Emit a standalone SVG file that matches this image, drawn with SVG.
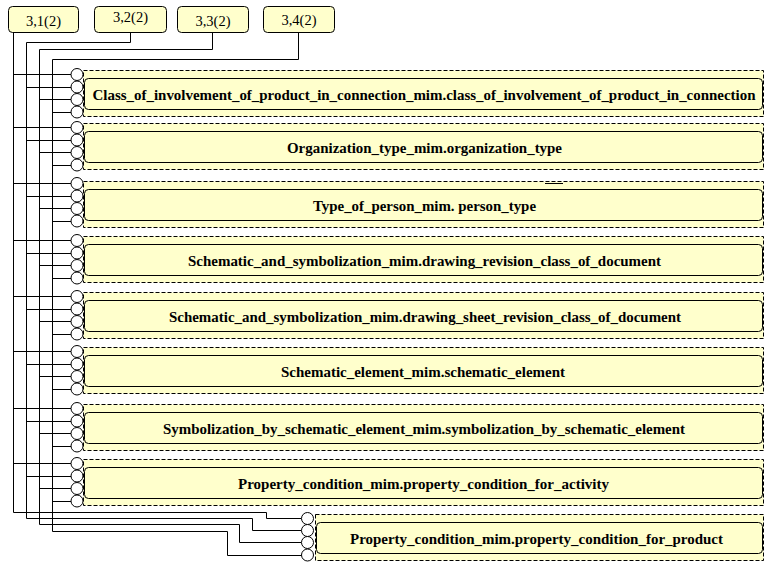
<svg xmlns="http://www.w3.org/2000/svg" width="768" height="576" viewBox="0 0 768 576">
<style>
.bg{fill:#ffffff}
.tb{fill:#ffffcc;stroke:#000;stroke-width:1}
.tt{font-family:"Liberation Serif","Times New Roman",serif;font-size:15px;fill:#000;text-anchor:middle}
.outer{fill:#ffffcc;stroke:#000;stroke-width:1;stroke-dasharray:4 2}
.inner{fill:#ffffcc;stroke:#000;stroke-width:1}
.lbl{font-family:"Liberation Serif","Times New Roman",serif;font-size:14px;font-weight:bold;fill:#000;text-anchor:middle}
.c{fill:#fff;stroke:#000;stroke-width:1}
.w{fill:none;stroke:#000;stroke-width:1}
</style>
<rect class="bg" x="0" y="0" width="768" height="576"/>

<g id="top-3-1"><rect class="tb" x="8.5" y="6.5" width="70" height="26" rx="4"/><text class="tt" x="43.5" y="26" textLength="35" lengthAdjust="spacingAndGlyphs">3,1(2)</text></g>
<g id="top-3-2"><rect class="tb" x="94.5" y="6.5" width="72" height="26" rx="4"/><text class="tt" x="130.5" y="22" textLength="35" lengthAdjust="spacingAndGlyphs">3,2(2)</text></g>
<g id="top-3-3"><rect class="tb" x="177.5" y="6.5" width="71" height="26" rx="4"/><text class="tt" x="213" y="26" textLength="35" lengthAdjust="spacingAndGlyphs">3,3(2)</text></g>
<g id="top-3-4"><rect class="tb" x="263.5" y="6.5" width="71" height="26" rx="4"/><text class="tt" x="299" y="25" textLength="35" lengthAdjust="spacingAndGlyphs">3,4(2)</text></g>

<g id="node1"><rect class="outer" x="83.5" y="70.5" width="680" height="46"/><rect class="inner" x="84.5" y="78.5" width="678" height="31" rx="4"/><text class="lbl" x="424" y="100" textLength="663" lengthAdjust="spacingAndGlyphs">Class_of_involvement_of_product_in_connection_mim.class_of_involvement_of_product_in_connection</text></g>
<g id="node2"><rect class="outer" x="83.5" y="123.5" width="680" height="46"/><rect class="inner" x="84.5" y="131.5" width="678" height="31" rx="4"/><text class="lbl" x="424.5" y="153" textLength="275" lengthAdjust="spacingAndGlyphs">Organization_type_mim.organization_type</text></g>
<g id="node3"><rect class="outer" x="83.5" y="181.5" width="680" height="46"/><rect class="inner" x="84.5" y="189.5" width="678" height="31" rx="4"/><text class="lbl" x="424.5" y="211" textLength="223" lengthAdjust="spacingAndGlyphs">Type_of_person_mim. person_type</text></g>
<g id="node4"><rect class="outer" x="83.5" y="236.5" width="680" height="46"/><rect class="inner" x="84.5" y="244.5" width="678" height="31" rx="4"/><text class="lbl" x="424.5" y="266" textLength="473" lengthAdjust="spacingAndGlyphs">Schematic_and_symbolization_mim.drawing_revision_class_of_document</text></g>
<g id="node5"><rect class="outer" x="83.5" y="292.5" width="680" height="46"/><rect class="inner" x="84.5" y="300.5" width="678" height="31" rx="4"/><text class="lbl" x="425" y="322" textLength="512" lengthAdjust="spacingAndGlyphs">Schematic_and_symbolization_mim.drawing_sheet_revision_class_of_document</text></g>
<g id="node6"><rect class="outer" x="83.5" y="347.5" width="680" height="46"/><rect class="inner" x="84.5" y="355.5" width="678" height="31" rx="4"/><text class="lbl" x="423" y="377" textLength="284" lengthAdjust="spacingAndGlyphs">Schematic_element_mim.schematic_element</text></g>
<g id="node7"><rect class="outer" x="83.5" y="404.5" width="680" height="46"/><rect class="inner" x="84.5" y="412.5" width="678" height="31" rx="4"/><text class="lbl" x="424" y="434" textLength="522" lengthAdjust="spacingAndGlyphs">Symbolization_by_schematic_element_mim.symbolization_by_schematic_element</text></g>
<g id="node8"><rect class="outer" x="83.5" y="459.5" width="680" height="46"/><rect class="inner" x="84.5" y="467.5" width="678" height="31" rx="4"/><text class="lbl" x="423.5" y="489" textLength="371" lengthAdjust="spacingAndGlyphs">Property_condition_mim.property_condition_for_activity</text></g>
<g id="node9"><rect class="outer" x="315.5" y="514.5" width="448" height="46"/><rect class="inner" x="316.5" y="522.5" width="446" height="31" rx="4"/><text class="lbl" x="536.5" y="543.5" textLength="373" lengthAdjust="spacingAndGlyphs">Property_condition_mim.property_condition_for_product</text></g>

<line class="w" x1="545" y1="183.5" x2="563" y2="183.5"/>

<g id="connectors">
<path class="w" d="M13.5 32.5V512.5H266.5V518.5H301.5"/>
<path class="w" d="M130.5 32.5V42.5H26.5V518.5H252.5V530.5H301.5"/>
<path class="w" d="M212.5 32.5V49.5H39.5V524.5H239.5V542.5H301.5"/>
<path class="w" d="M298.5 32.5V59.5H52.5V531.5H227.5V555.5H301.5"/>
<path class="w" d="M13.5 74.5H71M26.5 87.5H71M39.5 99.5H71M52.5 112.5H71
M13.5 127.5H71M26.5 140.5H71M39.5 152.5H71M52.5 165.5H71
M13.5 183.5H71M26.5 196.5H71M39.5 208.5H71M52.5 221.5H71
M13.5 240.5H71M26.5 253.5H71M39.5 265.5H71M52.5 278.5H71
M13.5 296.5H71M26.5 309.5H71M39.5 321.5H71M52.5 334.5H71
M13.5 351.5H71M26.5 364.5H71M39.5 376.5H71M52.5 389.5H71
M13.5 408.5H71M26.5 421.5H71M39.5 433.5H71M52.5 446.5H71
M13.5 463.5H71M26.5 476.5H71M39.5 488.5H71M52.5 501.5H71"/>
<g>
<circle class="c" cx="77" cy="74.5" r="6"/><circle class="c" cx="77" cy="87" r="6"/><circle class="c" cx="77" cy="99.5" r="6"/><circle class="c" cx="77" cy="112" r="6"/>
<circle class="c" cx="77" cy="127.5" r="6"/><circle class="c" cx="77" cy="140" r="6"/><circle class="c" cx="77" cy="152.5" r="6"/><circle class="c" cx="77" cy="165" r="6"/>
<circle class="c" cx="77" cy="183.5" r="6"/><circle class="c" cx="77" cy="196" r="6"/><circle class="c" cx="77" cy="208.5" r="6"/><circle class="c" cx="77" cy="221" r="6"/>
<circle class="c" cx="77" cy="240.5" r="6"/><circle class="c" cx="77" cy="253" r="6"/><circle class="c" cx="77" cy="265.5" r="6"/><circle class="c" cx="77" cy="278" r="6"/>
<circle class="c" cx="77" cy="296.5" r="6"/><circle class="c" cx="77" cy="309" r="6"/><circle class="c" cx="77" cy="321.5" r="6"/><circle class="c" cx="77" cy="334" r="6"/>
<circle class="c" cx="77" cy="351.5" r="6"/><circle class="c" cx="77" cy="364" r="6"/><circle class="c" cx="77" cy="376.5" r="6"/><circle class="c" cx="77" cy="389" r="6"/>
<circle class="c" cx="77" cy="408.5" r="6"/><circle class="c" cx="77" cy="421" r="6"/><circle class="c" cx="77" cy="433.5" r="6"/><circle class="c" cx="77" cy="446" r="6"/>
<circle class="c" cx="77" cy="463.5" r="6"/><circle class="c" cx="77" cy="476" r="6"/><circle class="c" cx="77" cy="488.5" r="6"/><circle class="c" cx="77" cy="501" r="6"/>
<circle class="c" cx="307.5" cy="518.5" r="6"/><circle class="c" cx="307.5" cy="530.5" r="6"/><circle class="c" cx="307.5" cy="542.5" r="6"/><circle class="c" cx="307.5" cy="555" r="6"/>
</g>
</g>
</svg>
